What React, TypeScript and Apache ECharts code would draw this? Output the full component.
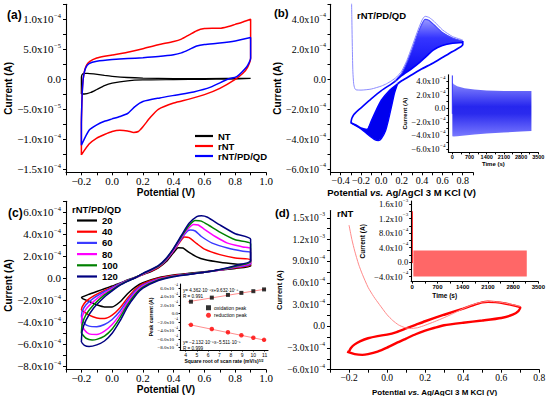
import React, { useEffect, useRef } from "react";
import * as echarts from "echarts";

type P = [number, number];

const SERIF = "'Liberation Serif','Times New Roman',serif";
const SANS = "'Liberation Sans',Arial,Helvetica,sans-serif";
const MINUS = "\u2212";

// ================= Panel (a)  (current in 1e-5 A) =================
const aNames = ["NT", "rNT", "rNT/PD/QD"];
const aColors = ["#000000", "#ff0000", "#0000ff"];
const aNT: P[] = [
  [-0.2, -2.45], [-0.2, 0.3], [-0.195, 0.8], [-0.185, 1.0], [-0.16, 1.0], [-0.12, 0.9], [-0.05, 0.65],
  [0.0, 0.5], [0.1, 0.3], [0.2, 0.2], [0.4, 0.12], [0.6, 0.12], [0.9, 0.15], [0.75, 0.05], [0.6, 0.0],
  [0.4, -0.05], [0.2, -0.1], [0.1, -0.25], [0.0, -0.65], [-0.05, -1.05], [-0.1, -1.7], [-0.14, -2.2],
  [-0.18, -2.45], [-0.2, -2.45],
];
const aRNT: P[] = [
  [-0.2, -12.6], [-0.2, -8.0], [-0.197, -4.0], [-0.192, -1.0], [-0.183, 1.0], [-0.168, 2.3], [-0.145, 3.0],
  [-0.1, 3.55], [-0.05, 3.85], [0.0, 4.05], [0.1, 4.5], [0.2, 5.1], [0.3, 5.75], [0.4, 6.3], [0.45, 6.7],
  [0.5, 7.4], [0.55, 8.1], [0.6, 8.45], [0.65, 8.5], [0.7, 8.5], [0.75, 8.75], [0.8, 9.15], [0.85, 9.55],
  [0.9, 10.0], [0.9, 3.5], [0.88, 2.0], [0.85, 1.0], [0.8, 0.0], [0.7, -1.5], [0.6, -2.55], [0.5, -3.3],
  [0.4, -3.95], [0.3, -5.0], [0.25, -6.3], [0.2, -7.9], [0.17, -8.7], [0.14, -8.85], [0.1, -8.6],
  [0.05, -8.5], [0.0, -8.7], [-0.05, -9.2], [-0.1, -9.8], [-0.15, -10.8], [-0.2, -12.6],
];
const aRNTPDQD: P[] = [
  [-0.2, -11.0], [-0.2, -7.5], [-0.198, -5.0], [-0.194, -2.0], [-0.186, 0.5], [-0.172, 1.9], [-0.15, 2.6],
  [-0.1, 3.0], [0.0, 3.3], [0.1, 3.45], [0.2, 3.6], [0.3, 3.8], [0.4, 4.1], [0.45, 4.4], [0.5, 4.95],
  [0.55, 5.55], [0.6, 5.8], [0.7, 6.05], [0.8, 6.4], [0.9, 6.95], [0.9, 3.5], [0.875, 2.1], [0.81, 0.45],
  [0.75, 0.0], [0.64, -1.3], [0.53, -2.1], [0.42, -2.6], [0.31, -3.1], [0.2, -3.7], [0.15, -4.5],
  [0.1, -5.7], [0.05, -6.2], [0.0, -6.6], [-0.05, -7.0], [-0.1, -7.6], [-0.15, -8.5], [-0.2, -11.0],
];
const aXLabels = [-0.2, 0, 0.2, 0.4, 0.6, 0.8, 1.0];
const aXTicks = [-0.3, -0.2, -0.1, 0, 0.1, 0.2, 0.3, 0.4, 0.5, 0.6, 0.7, 0.8, 0.9, 1.0];
const aYLabels = [-1.5e-4, -1e-4, -5e-5, 0, 5e-5, 1e-4];
const aYTicks = [-1.5e-4, -1.25e-4, -1e-4, -7.5e-5, -5e-5, -2.5e-5, 0, 2.5e-5, 5e-5, 7.5e-5, 1e-4, 1.25e-4];

// ================= Panel (b)  (current in 1e-4 A) =================
const bFirstCycle: P[] = [
  [-0.295, 6.0], [-0.29, 4.0], [-0.285, 2.0], [-0.28, 0.5], [-0.272, -0.3], [-0.262, -0.6], [-0.25, -0.7],
  [-0.2, -0.72], [-0.1, -0.65], [0.0, -0.45], [0.05, -0.3], [0.1, -0.1], [0.15, 0.15], [0.2, 0.55],
  [0.25, 1.25], [0.3, 2.15], [0.35, 3.1], [0.4, 3.95], [0.43, 4.2], [0.47, 4.12], [0.52, 3.85],
  [0.6, 3.3], [0.7, 2.85], [0.8, 2.62],
];
const bForwardLeft: P[] = [
  [-0.3, -2.9], [-0.29, -2.6], [-0.27, -2.35], [-0.25, -2.2], [-0.2, -1.9], [-0.1, -1.3], [0.0, -0.75],
  [0.1, -0.3], [0.15, -0.05],
];
const bEarlyUpper: P[] = [
  [0.13, -0.15], [0.2, 0.4], [0.25, 1.1], [0.3, 1.95], [0.35, 2.9], [0.4, 3.7], [0.43, 4.0],
  [0.47, 3.92], [0.52, 3.62], [0.6, 3.12], [0.7, 2.75], [0.8, 2.55],
];
const bLateUpper: P[] = [
  [0.15, -0.05], [0.2, 0.25], [0.3, 0.72], [0.38, 1.15], [0.45, 1.58], [0.51, 1.95], [0.6, 2.25],
  [0.7, 2.4], [0.8, 2.45],
];
const bReverseRight: P[] = [
  [0.8, 2.55], [0.8, 2.3], [0.7, 1.85], [0.6, 1.45], [0.5, 1.05], [0.4, 0.7], [0.3, 0.3], [0.2, -0.1], [0.16, -0.3],
];
const bEarlyLower: P[] = [
  [0.16, -0.3], [0.13, -0.9], [0.1, -1.8], [0.07, -2.7], [0.04, -3.45], [0.0, -3.95], [-0.03, -4.08],
  [-0.07, -4.0], [-0.13, -3.7], [-0.2, -3.3], [-0.3, -2.9],
];
const bLateLower: P[] = [
  [0.16, -0.3], [0.08, -0.75], [0.0, -1.4], [-0.06, -2.2], [-0.1, -2.8], [-0.14, -3.35], [-0.2, -3.25],
  [-0.25, -3.05], [-0.3, -2.9],
];
const bXLabels = [-0.4, -0.2, 0, 0.2, 0.4, 0.6, 0.8];
const bXTicks = [-0.5, -0.4, -0.3, -0.2, -0.1, 0, 0.1, 0.2, 0.3, 0.4, 0.5, 0.6, 0.7, 0.8, 0.9];
const bYLabels = [-6e-4, -4e-4, -2e-4, 0, 2e-4, 4e-4];
const bYTicks = [-6e-4, -5e-4, -4e-4, -3e-4, -2e-4, -1e-4, 0, 1e-4, 2e-4, 3e-4, 4e-4, 5e-4];

// inset (b): current vs time envelope (1e-4 A)
const bInTime = [0, 60, 200, 500, 900, 1400, 2100, 2800, 3220];
const bInUpper = [3.9, 3.6, 3.3, 3.0, 2.8, 2.65, 2.6, 2.58, 2.58];
const bInLower = [-4.1, -4.15, -4.12, -4.0, -3.85, -3.7, -3.55, -3.42, -3.35];
const bInSpike: P[] = [[0, 4.9], [0, -0.8]];
const tLabels = [0, 700, 1400, 2100, 2800, 3500];
const tTicks = [0, 350, 700, 1050, 1400, 1750, 2100, 2450, 2800, 3150, 3500];
const bInYLabels = [-6e-4, -4e-4, -2e-4, 0, 2e-4, 4e-4];
const bInYTicks = [-6e-4, -5e-4, -4e-4, -3e-4, -2e-4, -1e-4, 0, 1e-4, 2e-4, 3e-4, 4e-4];

// ================= Panel (c)  (current in 1e-4 A) =================
const cRates = ["20", "40", "60", "80", "100", "120"];
const cColors = ["#000000", "#ff0000", "#3b3bff", "#ff00ff", "#008000", "#000080"];
const c20: P[] = [
  [-0.2, -1.8], [-0.195, -1.7], [-0.15, -1.45], [-0.1, -1.2], [-0.05, -0.95], [0.0, -0.7], [0.05, -0.45],
  [0.1, -0.15], [0.15, 0.1], [0.2, 0.35], [0.25, 0.6], [0.3, 0.95], [0.35, 1.5], [0.4, 2.35], [0.43, 2.78],
  [0.46, 2.75], [0.5, 2.35], [0.55, 1.95], [0.6, 1.7], [0.7, 1.45], [0.8, 1.3], [0.9, 1.2], [0.9, 1.1],
  [0.8, 0.9], [0.7, 0.75], [0.6, 0.6], [0.5, 0.45], [0.4, 0.3], [0.3, 0.05], [0.2, -0.4], [0.15, -0.8],
  [0.1, -1.4], [0.05, -2.15], [0.0, -2.6], [-0.05, -2.6], [-0.1, -2.4], [-0.15, -2.1], [-0.2, -1.8],
];
const c40: P[] = [
  [-0.2, -2.9], [-0.195, -2.6], [-0.17, -2.1], [-0.12, -1.6], [-0.05, -1.1], [0.0, -0.8], [0.05, -0.5],
  [0.1, -0.2], [0.15, 0.05], [0.2, 0.35], [0.25, 0.65], [0.3, 1.0], [0.35, 1.6], [0.4, 2.5], [0.44, 3.3],
  [0.47, 3.75], [0.5, 3.7], [0.55, 3.15], [0.6, 2.65], [0.7, 2.15], [0.8, 1.85], [0.9, 1.7], [0.9, 1.2],
  [0.8, 0.95], [0.7, 0.75], [0.6, 0.55], [0.5, 0.4], [0.4, 0.25], [0.3, 0.0], [0.2, -0.5], [0.15, -1.0],
  [0.1, -1.8], [0.05, -2.7], [0.0, -3.35], [-0.05, -3.65], [-0.1, -3.6], [-0.15, -3.35], [-0.2, -2.9],
];
const c60: P[] = [
  [-0.2, -3.5], [-0.195, -3.0], [-0.17, -2.4], [-0.12, -1.8], [-0.05, -1.2], [0.0, -0.85], [0.05, -0.5],
  [0.1, -0.2], [0.15, 0.05], [0.2, 0.38], [0.25, 0.7], [0.3, 1.05], [0.35, 1.65], [0.4, 2.55], [0.45, 3.6],
  [0.49, 4.3], [0.51, 4.4], [0.54, 4.3], [0.58, 3.8], [0.65, 3.2], [0.75, 2.75], [0.85, 2.45], [0.9, 2.35],
  [0.9, 1.3], [0.8, 1.0], [0.7, 0.75], [0.6, 0.55], [0.5, 0.4], [0.4, 0.22], [0.3, -0.05], [0.2, -0.6],
  [0.15, -1.15], [0.1, -2.0], [0.05, -3.0], [0.0, -3.75], [-0.05, -4.2], [-0.1, -4.4], [-0.15, -4.35],
  [-0.18, -4.1], [-0.2, -3.5],
];
const c80: P[] = [
  [-0.2, -4.1], [-0.195, -3.5], [-0.17, -2.8], [-0.12, -2.1], [-0.05, -1.35], [0.0, -0.95], [0.05, -0.55],
  [0.1, -0.22], [0.15, 0.05], [0.2, 0.4], [0.25, 0.72], [0.3, 1.08], [0.35, 1.7], [0.4, 2.6], [0.45, 3.7],
  [0.5, 4.6], [0.53, 4.9], [0.56, 4.85], [0.6, 4.45], [0.67, 3.8], [0.75, 3.2], [0.85, 2.85], [0.9, 2.7],
  [0.9, 1.4], [0.8, 1.05], [0.7, 0.75], [0.6, 0.55], [0.5, 0.38], [0.4, 0.2], [0.3, -0.1], [0.2, -0.7],
  [0.15, -1.3], [0.1, -2.2], [0.05, -3.3], [0.0, -4.2], [-0.05, -4.8], [-0.1, -5.1], [-0.15, -5.05],
  [-0.18, -4.7], [-0.2, -4.1],
];
const c100: P[] = [
  [-0.2, -5.0], [-0.195, -4.2], [-0.17, -3.3], [-0.12, -2.4], [-0.05, -1.5], [0.0, -1.05], [0.05, -0.6],
  [0.1, -0.25], [0.15, 0.05], [0.2, 0.42], [0.25, 0.75], [0.3, 1.1], [0.35, 1.75], [0.4, 2.7], [0.45, 3.8],
  [0.5, 4.8], [0.54, 5.25], [0.58, 5.2], [0.63, 4.8], [0.7, 4.2], [0.8, 3.5], [0.9, 3.15], [0.9, 1.5],
  [0.8, 1.1], [0.7, 0.78], [0.6, 0.55], [0.5, 0.37], [0.4, 0.18], [0.3, -0.15], [0.2, -0.8], [0.15, -1.45],
  [0.1, -2.4], [0.05, -3.6], [0.0, -4.6], [-0.05, -5.25], [-0.1, -5.55], [-0.13, -5.6], [-0.17, -5.45],
  [-0.2, -5.0],
];
const c120: P[] = [
  [-0.2, -5.8], [-0.195, -4.8], [-0.17, -3.8], [-0.12, -2.7], [-0.05, -1.7], [0.0, -1.15], [0.05, -0.65],
  [0.1, -0.28], [0.15, 0.05], [0.2, 0.45], [0.25, 0.78], [0.3, 1.15], [0.35, 1.8], [0.4, 2.75], [0.45, 3.9],
  [0.5, 5.0], [0.55, 5.6], [0.58, 5.68], [0.62, 5.55], [0.7, 4.85], [0.8, 4.05], [0.9, 3.55], [0.9, 1.6],
  [0.8, 1.15], [0.7, 0.8], [0.6, 0.55], [0.5, 0.35], [0.4, 0.15], [0.3, -0.2], [0.2, -0.9], [0.15, -1.6],
  [0.1, -2.6], [0.05, -3.9], [0.0, -5.0], [-0.05, -5.7], [-0.1, -6.05], [-0.15, -6.2], [-0.18, -6.1],
  [-0.2, -5.8],
];
const cCurves = [c20, c40, c60, c80, c100, c120];
const cYLabels = [-8e-4, -6e-4, -4e-4, -2e-4, 0, 2e-4, 4e-4, 6e-4];
const cYTicks = [-8e-4, -7e-4, -6e-4, -5e-4, -4e-4, -3e-4, -2e-4, -1e-4, 0, 1e-4, 2e-4, 3e-4, 4e-4, 5e-4, 6e-4, 7e-4];

// inset (c): peak current vs sqrt(scan rate)  (1e-4 A)
const cSqrtRate = [4.47, 6.32, 7.75, 8.94, 10.0, 10.95];
const cOxPeak = [2.82, 3.78, 4.42, 4.9, 5.3, 5.72];
const cRedPeak = [-2.65, -3.65, -4.4, -5.1, -5.7, -6.2];
const cOxFit: P[] = [[4.2, 2.8], [11.1, 5.8]];
const cRedFit: P[] = [[4.2, -2.53], [11.1, -6.33]];
const cInXLabels = [4, 5, 6, 7, 8, 9, 10, 11];
const cInYLabels = [-8e-4, -6e-4, -4e-4, -2e-4, 0, 2e-4, 4e-4, 6e-4];

// ================= Panel (d)  (current in 1e-4 A) =================
const dFirstCycle: P[] = [
  [-0.2, 14.0], [-0.185, 12.0], [-0.17, 10.4], [-0.15, 8.6], [-0.13, 7.2], [-0.1, 5.4], [-0.07, 4.1],
  [-0.04, 3.0], [0.0, 1.6], [0.03, 0.8], [0.06, 0.2], [0.09, -0.15], [0.12, -0.3], [0.16, -0.2], [0.2, 0.15],
  [0.25, 0.65], [0.3, 1.2], [0.35, 1.8], [0.4, 2.45], [0.45, 3.0], [0.5, 3.35], [0.54, 3.45], [0.6, 3.3],
  [0.65, 3.05], [0.7, 2.75],
];
const dLoop: P[] = [
  [-0.2, -3.5], [-0.19, -3.0], [-0.17, -2.5], [-0.14, -2.05], [-0.1, -1.65], [-0.05, -1.35], [0.0, -1.15],
  [0.05, -0.8], [0.1, -0.3], [0.15, 0.2], [0.2, 0.7], [0.3, 1.6], [0.4, 2.45], [0.45, 2.9], [0.5, 3.3],
  [0.53, 3.4], [0.57, 3.35], [0.62, 3.15], [0.67, 2.85], [0.7, 2.6], [0.69, 2.1], [0.66, 1.6], [0.6, 1.15],
  [0.5, 0.8], [0.4, 0.5], [0.3, 0.15], [0.25, -0.2], [0.2, -0.6], [0.15, -1.1], [0.1, -1.7], [0.05, -2.3],
  [0.0, -2.95], [-0.05, -3.5], [-0.1, -3.85], [-0.13, -3.95], [-0.17, -3.85], [-0.2, -3.6], [-0.21, -3.5],
];
const dXLabels = [-0.2, 0, 0.2, 0.4, 0.6, 0.8];
const dXTicks = [-0.3, -0.2, -0.1, 0, 0.1, 0.2, 0.3, 0.4, 0.5, 0.6, 0.7, 0.8];
const dYLabels = [-6e-4, -3e-4, 0, 3e-4, 6e-4, 9e-4, 1.2e-3, 1.5e-3];
const dYTicks = [-6e-4, -4.5e-4, -3e-4, -1.5e-4, 0, 1.5e-4, 3e-4, 4.5e-4, 6e-4, 7.5e-4, 9e-4, 1.05e-3, 1.2e-3, 1.35e-3, 1.5e-3];

// inset (d): current vs time envelope (1e-4 A)
const dInTime = [30, 3180];
const dInUpper = [3.2, 3.2];
const dInLower = [-4.0, -4.0];
const dInSpike: P[] = [[5, 14.0], [5, -0.3]];
const dInYLabels = [-4e-4, 0, 4e-4, 8e-4, 1.2e-3, 1.6e-3];
const dInYTicks = [-4e-4, -2e-4, 0, 2e-4, 4e-4, 6e-4, 8e-4, 1e-3, 1.2e-3, 1.4e-3, 1.6e-3];

// ================= helpers =================
const scale = (pts: P[], k: number): P[] => pts.map(([x, y]) => [x, y * k] as P);
const envelope = (t: number[], up: number[], lo: number[], k: number): P[] =>
  t.map((v, i) => [v, up[i] * k] as P).concat(t.map((v, i) => [v, lo[i] * k] as P).reverse());

function sciFmt(v: number): string {
  const a = Math.abs(v);
  if (a < 1e-12) return "{n|0.0}";
  const e = Math.floor(Math.log10(a) + 1e-9);
  const m = a / Math.pow(10, e);
  return `{n|${v < 0 ? MINUS : ""}${m.toFixed(1)}x10}{s|${MINUS}${-e}}`;
}
function decFmt(v: number): string {
  if (Math.abs(v) < 1e-9) return "0.0";
  return (v < 0 ? MINUS : "") + Math.abs(v).toFixed(1);
}
function intFmt(v: number): string {
  return String(Math.round(v));
}

interface AxOpt {
  grid: number; min: number; max: number; labels: number[]; ticks: number[];
  fmt: (v: number) => string; size: number; sup?: number; font?: string; weight?: string;
  name?: string; nameSize?: number; nameGap?: number; tickLen?: number; margin?: number;
  namePadding?: number[]; nameRich?: any;
}
function axis(o: AxOpt, isX: boolean) {
  const sup = o.sup ?? o.size * 0.62;
  return {
    type: "value", gridIndex: o.grid, min: o.min, max: o.max,
    position: isX ? "bottom" : "left",
    splitLine: { show: false }, minorTick: { show: false }, minorSplitLine: { show: false },
    axisLine: { show: true, onZero: false, lineStyle: { color: "#000", width: 1.1 } },
    axisTick: { show: true, inside: false, length: o.tickLen ?? 3, customValues: o.ticks, lineStyle: { color: "#000", width: 1 } },
    axisLabel: {
      show: true, customValues: o.labels, margin: o.margin ?? 4, formatter: o.fmt,
      fontFamily: o.font ?? SERIF, fontSize: o.size, fontWeight: o.weight ?? "normal", color: "#000",
      hideOverlap: false,
      rich: {
        n: { fontFamily: SERIF, fontSize: o.size, color: "#000", lineHeight: o.size + 4, verticalAlign: "middle" },
        s: { fontFamily: SERIF, fontSize: sup, color: "#000", lineHeight: sup, verticalAlign: "top", padding: [0, 0, 0, 0.5] },
      },
    },
    name: o.name ?? "",
    nameLocation: "middle",
    nameGap: o.nameGap ?? 20,
    nameTextStyle: {
      fontFamily: SANS, fontWeight: "bold", fontSize: o.nameSize ?? 10, color: "#000",
      padding: o.namePadding ?? [0, 0, 0, 0],
      rich: o.nameRich,
    },
  };
}

function line(name: string, idx: number, data: P[], color: string, width: number, smooth: number | boolean = 0.2, z = 3) {
  return {
    type: "line", name, xAxisIndex: idx, yAxisIndex: idx, data, showSymbol: false, symbol: "none",
    smooth, lineStyle: { color, width }, itemStyle: { color }, clip: true, silent: true, z,
  };
}
function poly(idx: number, pts: P[], fill: any, z = 2) {
  return {
    type: "custom", xAxisIndex: idx, yAxisIndex: idx, clip: true, silent: true, z,
    data: [[pts[0][0], pts[0][1]]],
    renderItem: (_p: any, api: any) => ({
      type: "polygon",
      shape: { points: pts.map((p) => api.coord(p)) },
      style: { fill, stroke: "none" },
    }),
  };
}

export default function App() {
  const ref = useRef<HTMLDivElement>(null);
  useEffect(() => {
    if (!ref.current) return;
    const chart = echarts.init(ref.current, undefined, { renderer: "svg" });
    const S4 = 1e-4, S5 = 1e-5;

    const grids = [
      { left: 66, top: 4.3, width: 200, height: 168 },        // a
      { left: 330.5, top: 4.3, width: 142.4, height: 168 },   // b
      { left: 66, top: 201.3, width: 200, height: 168.3 },    // c
      { left: 330, top: 210.6, width: 209.3, height: 159.1 }, // d
      { left: 448.4, top: 74.75, width: 89.9, height: 77.6 }, // b inset
      { left: 411.2, top: 201.1, width: 127.1, height: 80.5 },// d inset
      { left: 180, top: 284, width: 88, height: 66 },         // c inset
    ].map((g) => ({ ...g, containLabel: false, outerBoundsMode: "none", show: false }));

    const xAxis = [
      axis({ grid: 0, min: -0.3, max: 1.0, labels: aXLabels, ticks: aXTicks, fmt: decFmt, size: 11, name: "Potential (V)", nameSize: 10, nameGap: 14.5, margin: 3 }, true),
      axis({ grid: 1, min: -0.5, max: 0.9, labels: bXLabels, ticks: bXTicks, fmt: decFmt, size: 10, name: "Potential {i|vs.} Ag/AgCl 3 M KCl (V)", nameSize: 9.5, nameGap: 15.5, margin: 3,
        nameRich: { i: { fontFamily: SANS, fontWeight: "bold", fontStyle: "italic", fontSize: 9.5, color: "#000" } } }, true),
      axis({ grid: 2, min: -0.3, max: 1.0, labels: aXLabels, ticks: aXTicks, fmt: decFmt, size: 11, name: "Potential (V)", nameSize: 10, nameGap: 15, margin: 3 }, true),
      axis({ grid: 3, min: -0.3, max: 0.8, labels: dXLabels, ticks: dXTicks, fmt: decFmt, size: 9.5, name: "Potential {i|vs.} Ag/AgCl 3 M KCl (V)", nameSize: 8, nameGap: 19, margin: 3,
        nameRich: { i: { fontFamily: SANS, fontWeight: "bold", fontStyle: "italic", fontSize: 8, color: "#000" } } }, true),
      axis({ grid: 4, min: -160, max: 3500, labels: tLabels, ticks: tTicks, fmt: intFmt, size: 5.5, font: SANS, weight: "bold", name: "Time (s)", nameSize: 6, nameGap: 7.5, tickLen: 2, margin: 2 }, true),
      axis({ grid: 5, min: -30, max: 3500, labels: tLabels, ticks: tTicks, fmt: intFmt, size: 6, font: SANS, weight: "bold", name: "Time (s)", nameSize: 6.5, nameGap: 10, tickLen: 2, margin: 2, namePadding: [0, 60, 0, 0] }, true),
      axis({ grid: 6, min: 3.5, max: 11.3, labels: cInXLabels, ticks: cInXLabels, fmt: intFmt, size: 5, font: SANS, name: "Square root of scan rate (mV/s){s|1/2}", nameSize: 5, nameGap: 8.5, tickLen: 1.5, margin: 2,
        nameRich: { s: { fontFamily: SANS, fontWeight: "bold", fontSize: 3.5, verticalAlign: "top", lineHeight: 3.5, color: "#000" } } }, true),
    ];
    const yAxis = [
      axis({ grid: 0, min: -1.55e-4, max: 1.25e-4, labels: aYLabels, ticks: aYTicks, fmt: sciFmt, size: 11, sup: 6.5, name: "Current (A)", nameSize: 10, nameGap: 49, margin: 5 }, false),
      axis({ grid: 1, min: -6.2e-4, max: 5e-4, labels: bYLabels, ticks: bYTicks, fmt: sciFmt, size: 10, sup: 6, name: "Current (A)", nameSize: 10, nameGap: 45, margin: 4.5 }, false),
      axis({ grid: 2, min: -8.3e-4, max: 7e-4, labels: cYLabels, ticks: cYTicks, fmt: sciFmt, size: 11, sup: 6.5, name: "Current (A)", nameSize: 10, nameGap: 49, margin: 5 }, false),
      axis({ grid: 3, min: -6e-4, max: 1.6e-3, labels: dYLabels, ticks: dYTicks, fmt: sciFmt, size: 9.5, sup: 5.5, name: "Current (A)", nameSize: 7.5, nameGap: 45, margin: 5 }, false),
      axis({ grid: 4, min: -6.5e-4, max: 5e-4, labels: bInYLabels, ticks: bInYTicks, fmt: sciFmt, size: 8.5, sup: 5, name: "Current (A)", nameSize: 6, nameGap: 39, tickLen: 2, margin: 3 }, false),
      axis({ grid: 5, min: -5.4e-4, max: 1.68e-3, labels: dInYLabels, ticks: dInYTicks, fmt: sciFmt, size: 8.5, sup: 5, name: "Current (A)", nameSize: 6.5, nameGap: 45, tickLen: 2, margin: 3 }, false),
      axis({ grid: 6, min: -8.6e-4, max: 7e-4, labels: cInYLabels, ticks: cInYLabels, fmt: sciFmt, size: 5, sup: 3.3, name: "Peak current (A)", nameSize: 5, nameGap: 19, tickLen: 1.5, margin: 2 }, false),
    ];

    const upperBandGrad = new echarts.graphic.LinearGradient(0, 0, 0, 1, [
      { offset: 0, color: "#9a9aff" }, { offset: 0.3, color: "#3535ff" }, { offset: 1, color: "#0000f0" },
    ]);
    const bInsetGrad = new echarts.graphic.LinearGradient(0, 0, 0, 1, [
      { offset: 0, color: "#8a8aff" }, { offset: 0.45, color: "#2626ee" }, { offset: 0.58, color: "#2a2aee" }, { offset: 1, color: "#7a7aff" },
    ]);

    const series: any[] = [
      // (a)
      line(aNames[0], 0, scale(aNT, S5), aColors[0], 1.3),
      line(aNames[1], 0, scale(aRNT, S5), aColors[1], 1.5),
      line(aNames[2], 0, scale(aRNTPDQD, S5), aColors[2], 1.5),
      // (b)
      poly(1, scale(bEarlyUpper.concat([...bLateUpper].reverse()), S4), upperBandGrad),
      poly(1, scale(bEarlyLower.concat([...bLateLower].reverse()), S4), "#0000ee"),
      line("b-first", 1, scale(bFirstCycle, S4), "#8c8cff", 1, 0.2, 4),
      line("b-fl", 1, scale(bForwardLeft, S4), "#0000ff", 1.6),
      line("b-eu", 1, scale(bEarlyUpper, S4), "#4848ff", 1.2),
      line("b-lu", 1, scale(bLateUpper, S4), "#0000ff", 1.6),
      line("b-rr", 1, scale(bReverseRight, S4), "#0000ff", 1.8),
      line("b-el", 1, scale(bEarlyLower, S4), "#0000ff", 1.4),
      line("b-ll", 1, scale(bLateLower, S4), "#0000ff", 1.6),
      // (b) inset
      poly(4, envelope(bInTime, bInUpper, bInLower, S4), bInsetGrad),
      line("b-spike", 4, scale(bInSpike, S4), "#3030ff", 1, false),
      // (c)
      ...cCurves.map((c, i) => line(cRates[i], 2, scale(c, S4), cColors[i], 1.5)),
      // (c) inset
      line("c-oxfit", 6, scale(cOxFit, S4), "#ff7070", 0.8, false),
      line("c-redfit", 6, scale(cRedFit, S4), "#ff7070", 0.8, false),
      {
        type: "scatter", name: "oxidation peak", xAxisIndex: 6, yAxisIndex: 6, symbol: "rect", symbolSize: 4,
        itemStyle: { color: "#000" }, silent: true, z: 5,
        data: cSqrtRate.map((x, i) => [x, cOxPeak[i] * S4]),
      },
      {
        type: "scatter", name: "reduction peak", xAxisIndex: 6, yAxisIndex: 6, symbol: "circle", symbolSize: 4.5,
        itemStyle: { color: "#ff0000" }, silent: true, z: 5,
        data: cSqrtRate.map((x, i) => [x, cRedPeak[i] * S4]),
      },
      // (d)
      line("d-first", 3, scale(dFirstCycle, S4), "#ff8a8a", 1, 0.2, 4),
      line("d-loop", 3, scale(dLoop, S4), "#ff0000", 2.4),
      // (d) inset
      poly(5, envelope(dInTime, dInUpper, dInLower, S4), "rgba(255,70,70,0.82)"),
      line("d-spike", 5, scale(dInSpike, S4), "#ff3030", 1, false),
    ];

    const legendText = { fontFamily: SANS, fontWeight: "bold", color: "#000" };
    const legend = [
      {
        orient: "vertical", left: 195, top: 131, itemWidth: 18, itemHeight: 2.2, itemGap: 0, icon: "rect",
        padding: 0, selectedMode: false, data: aNames,
        textStyle: { ...legendText, fontSize: 9.5, lineHeight: 10 },
      },
      {
        orient: "vertical", left: 77, top: 215.5, itemWidth: 20, itemHeight: 2.2, itemGap: 1.2, icon: "rect",
        padding: 0, selectedMode: false, data: cRates,
        textStyle: { ...legendText, fontSize: 9.5, lineHeight: 10 },
      },
      {
        orient: "vertical", left: 206, top: 305, itemWidth: 5, itemHeight: 5, itemGap: 2, padding: 0, selectedMode: false,
        data: [{ name: "oxidation peak", icon: "rect" }, { name: "reduction peak", icon: "circle" }],
        textStyle: { fontFamily: SANS, color: "#000", fontSize: 5, lineHeight: 5.5, padding: [0, 0, 0, -2] },
      },
    ];

    const t = (text: string, x: number, y: number, size: number, weight = "bold", family = SANS) => ({
      type: "text", x, y, silent: true, z: 10,
      style: { text, fontSize: size, fontWeight: weight, fontFamily: family, fill: "#000", verticalAlign: "middle", align: "left" },
    });
    const graphic = [
      t("(a)", 7, 15, 12),
      t("(b)", 274, 13, 11.5),
      t("(c)", 8, 213, 12),
      t("(d)", 275, 213, 11.5),
      t("rNT/PD/QD", 357, 15, 9.5),
      t("rNT", 337, 213, 9.5),
      t("rNT/PD/QD", 72, 209.5, 9.5),
      t("y= 4.362\u00b710\u207b\u2075x+9.632\u00b710\u207b\u2075", 183, 290, 4.6, "normal"),
      t("R = 0.991", 183, 296.5, 4.6, "normal"),
      t("y= \u22122.132\u00b710\u207b\u2075x\u22125.511\u00b710\u207b\u2075", 183, 342, 4.6, "normal"),
      t("R = 0.999", 183, 348, 4.6, "normal"),
    ];

    chart.setOption({
      animation: false,
      backgroundColor: "#ffffff",
      textStyle: { fontFamily: SANS },
      grid: grids,
      xAxis,
      yAxis,
      legend,
      graphic,
      series,
    });
    return () => chart.dispose();
  }, []);
  return <div ref={ref} style={{ position: "fixed", left: 0, top: 0, width: 550, height: 396, background: "#fff" }} />;
}
